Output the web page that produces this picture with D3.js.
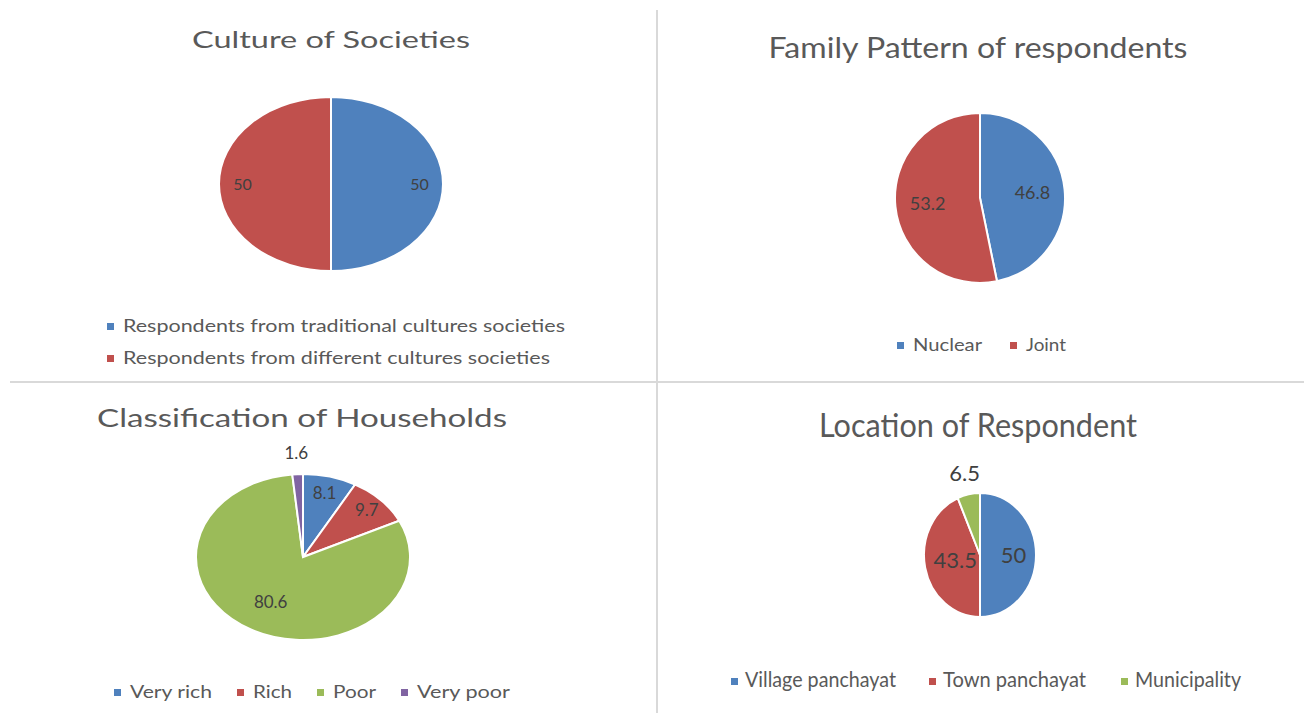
<!DOCTYPE html>
<html>
<head>
<meta charset="utf-8">
<script src="https://cdn.jsdelivr.net/npm/d3@7"></script>
<style>
  body { margin: 0; background: #fff; }
  text { font-family: Lato, "Open Sans", sans-serif; }
</style>
</head>
<body>
<div class="container"></div>
<script>
// chart data
var cultureLabels = ["Respondents from traditional cultures societies", "Respondents from different cultures societies"];
var cultureValues = [50, 50];

var familyLabels = ["Nuclear", "Joint"];
var familyValues = [46.8, 53.2];

var householdLabels = ["Very rich", "Rich", "Poor", "Very poor"];
var householdValues = [8.1, 9.7, 80.6, 1.6];

var locationLabels = ["Village panchayat", "Town panchayat", "Municipality"];
var locationValues = [50, 43.5, 6.5];

var titles = ["Culture of Societies", "Family Pattern of respondents", "Classification of Households", "Location of Respondent"];

var colors = ["#4f81bd", "#c0504d", "#9bbb59", "#8064a2"];

var w = 1304;
var h = 713;

var svg = d3.select(".container")
    .append("svg")
    .attr("width", w)
    .attr("height", h);

// grid dividers
svg.append("line")
    .attr("x1", 657).attr("x2", 657).attr("y1", 10).attr("y2", h)
    .attr("stroke", "#d9d9d9").attr("stroke-width", 2);
svg.append("line")
    .attr("x1", 10).attr("x2", w).attr("y1", 382).attr("y2", 382)
    .attr("stroke", "#d9d9d9").attr("stroke-width", 2);

// layout of each panel
var panels = [
    { title: titles[0], labels: cultureLabels, values: cultureValues,
      cx: 331, cy: 184, rx: 112, ry: 87,
      tx: 331, ty: 48, tsize: 23, tw: 278,
      labSize: 16, labR: [0.79, 0.79],
      legSize: 17, legVertical: true, legX: [107, 107], legY: [332, 364], legW: [442, 427] },
    { title: titles[1], labels: familyLabels, values: familyValues,
      cx: 980, cy: 198, rx: 85, ry: 85,
      tx: 978, ty: 58, tsize: 28, tw: 419,
      labSize: 18, labR: [0.62, 0.62],
      legSize: 17, legX: [897, 1010], legY: [351, 351], legW: [69, 40] },
    { title: titles[2], labels: householdLabels, values: householdValues,
      cx: 303, cy: 557, rx: 107, ry: 83,
      tx: 302, ty: 427, tsize: 25, tw: 410,
      labSize: 17, labR: [0.8, 0.82, 0.62, 1.25],
      legSize: 17, legX: [114, 237, 317, 401], legY: [698, 698, 698, 698], legW: [82, 39, 43, 93] },
    { title: titles[3], labels: locationLabels, values: locationValues,
      cx: 980, cy: 555, rx: 56, ry: 62,
      tx: 978, ty: 437, tsize: 32, tw: 318,
      labSize: 22, labR: [0.6, 0.45, 1.35],
      legSize: 21, legX: [731, 929, 1121], legY: [687, 687, 687], legW: [151, 143, 106] }
];

var pie = d3.pie().sort(null).value(function(d) { return d; });

panels.forEach(function(p) {
    var g = svg.append("g");

    g.append("text")
        .attr("x", p.tx)
        .attr("y", p.ty)
        .attr("text-anchor", "middle")
        .attr("font-size", p.tsize)
        .attr("textLength", p.tw)
        .attr("lengthAdjust", "spacingAndGlyphs")
        .attr("fill", "#595959")
        .text(p.title);

    var arcs = pie(p.values);
    var arc = d3.arc().innerRadius(0).outerRadius(p.ry);

    // ellipse: draw circle of radius ry and stretch horizontally
    var pg = g.append("g")
        .attr("transform", "translate(" + p.cx + "," + p.cy + ") scale(" + (p.rx / p.ry) + ",1)");

    pg.selectAll("path")
        .data(arcs)
        .enter()
        .append("path")
        .attr("d", arc)
        .attr("fill", function(d, i) { return colors[i]; })
        .attr("stroke", "#fff")
        .attr("stroke-width", 2)
        .attr("vector-effect", "non-scaling-stroke");

    g.selectAll("text.lab")
        .data(arcs)
        .enter()
        .append("text")
        .attr("class", "lab")
        .attr("x", function(d, i) {
            var a = (d.startAngle + d.endAngle) / 2;
            return p.cx + Math.sin(a) * p.rx * p.labR[i];
        })
        .attr("y", function(d, i) {
            var a = (d.startAngle + d.endAngle) / 2;
            return p.cy - Math.cos(a) * p.ry * p.labR[i];
        })
        .attr("dy", "0.35em")
        .attr("text-anchor", "middle")
        .attr("font-size", p.labSize)
        .attr("fill", "#404040")
        .text(function(d) { return d.data; });

    // legend
    var leg = g.selectAll("g.leg")
        .data(p.labels)
        .enter()
        .append("g")
        .attr("class", "leg");

    leg.append("rect")
        .attr("x", function(d, i) { return p.legX[i]; })
        .attr("y", function(d, i) { return p.legY[i] - 9; })
        .attr("width", 7)
        .attr("height", 7)
        .attr("fill", function(d, i) { return colors[i]; });

    leg.append("text")
        .attr("x", function(d, i) { return p.legX[i] + (p.legSize > 18 ? 14 : 16); })
        .attr("y", function(d, i) { return p.legY[i]; })
        .attr("font-size", p.legSize)
        .attr("textLength", function(d, i) { return p.legW[i]; })
        .attr("lengthAdjust", "spacingAndGlyphs")
        .attr("fill", "#595959")
        .text(function(d) { return d; });
});
</script>
</body>
</html>
